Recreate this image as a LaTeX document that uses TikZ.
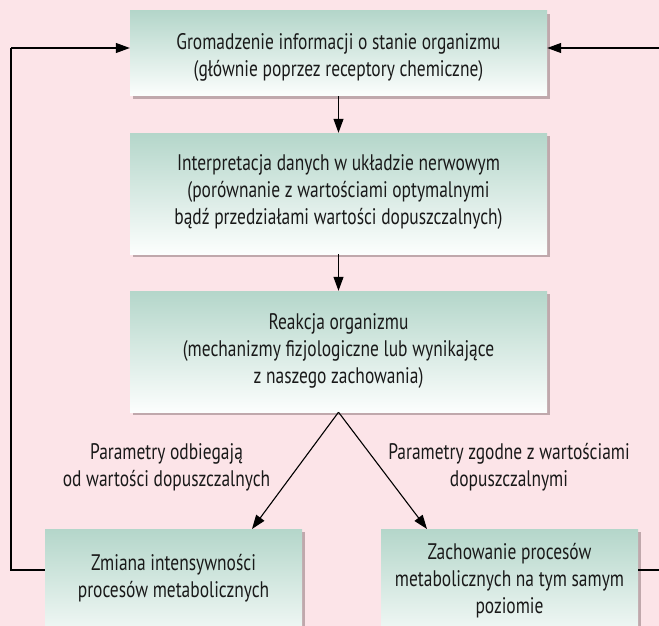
\documentclass[tikz,border=0pt]{standalone}
\usepackage{fontspec}
\setmainfont[FakeStretch=0.775]{PT Sans}
\usetikzlibrary{shadows,arrows.meta,calc}
\definecolor{bgpink}{RGB}{252,228,232}
\definecolor{boxtop}{RGB}{180,214,202}
\definecolor{boxbot}{RGB}{252,254,253}
\definecolor{shadowc}{RGB}{120,95,100}
\tikzset{
  box/.style={rectangle, draw=none, top color=boxtop, bottom color=boxbot,
    minimum width=417pt, inner sep=0pt,
    drop shadow={shadow xshift=3pt, shadow yshift=-3pt, opacity=0.45, fill=shadowc}},
  txt/.style={align=center, font=\fontsize{22.5}{27}\selectfont, inner sep=0pt, text=black!90},
  arr/.style={line width=1.1pt, -{Triangle[length=14pt,width=10pt]}},
  fb/.style={line width=1.1pt}
}
\begin{document}
\begin{tikzpicture}[x=1pt,y=-1pt]
\fill[bgpink] (0,0) rectangle (659,626);
\useasboundingbox (0,0) rectangle (659,626);
\clip (0,0) rectangle (659,626);
% boxes
\node[box, minimum height=85pt] (b1) at (338.5,53.5) {};
\node[txt] (t1) at (338.5,57) {Gromadzenie informacji o stanie organizmu\\(głównie poprzez receptory chemiczne)};
\node[box, minimum height=121pt] (b2) at (338.5,193.5) {};
\node[txt] (t2) at (338.5,192) {Interpretacja danych w układzie nerwowym\\(porównanie z wartościami optymalnymi\\bądź przedziałami wartości dopuszczalnych)};
\node[box, minimum height=121pt] (b3) at (338.5,351.5) {};
\node[txt] (t3) at (338.5,351) {Reakcja organizmu\\(mechanizmy fizjologiczne lub wynikające\\z naszego zachowania)};
\node[box, minimum width=257pt, minimum height=121pt] (b4) at (173.5,589.5) {};
\node[txt] (t4) at (173.5,578) {Zmiana intensywności\\procesów metabolicznych};
\node[box, minimum width=257pt, minimum height=121pt] (b5) at (509.5,589.5) {};
\node[txt] (t5) at (509.5,581) {Zachowanie procesów\\metabolicznych na tym samym\\poziomie};
% labels
\node[txt] (l1) at (166.5,467) {Parametry odbiegają\\od wartości dopuszczalnych};
\node[txt] (l2) at (509,467) {Parametry zgodne z wartościami\\dopuszczalnymi};
% arrows
\draw[arr] (b1.south) -- (b2.north);
\draw[arr] (b2.south) -- (b3.north);
\coordinate (tipL) at (252,529);
\coordinate (tipR) at (427,529);
\draw[arr] (b3.south) -- (tipL);
\draw[arr] (b3.south) -- (tipR);
% feedback loops
\coordinate (L1) at (11,570);
\coordinate (L2) at (11,48);
\draw[fb] (b4.west |- L1) -- (L1) -- (L2);
\draw[arr] (L2) -- (b1.west |- L2);
\coordinate (R1) at (661,570);
\coordinate (R2) at (661,48);
\draw[fb] (b5.east |- R1) -- (R1) -- (R2);
\draw[arr] (R2) -- (b1.east |- R2);
\end{tikzpicture}
\end{document}
